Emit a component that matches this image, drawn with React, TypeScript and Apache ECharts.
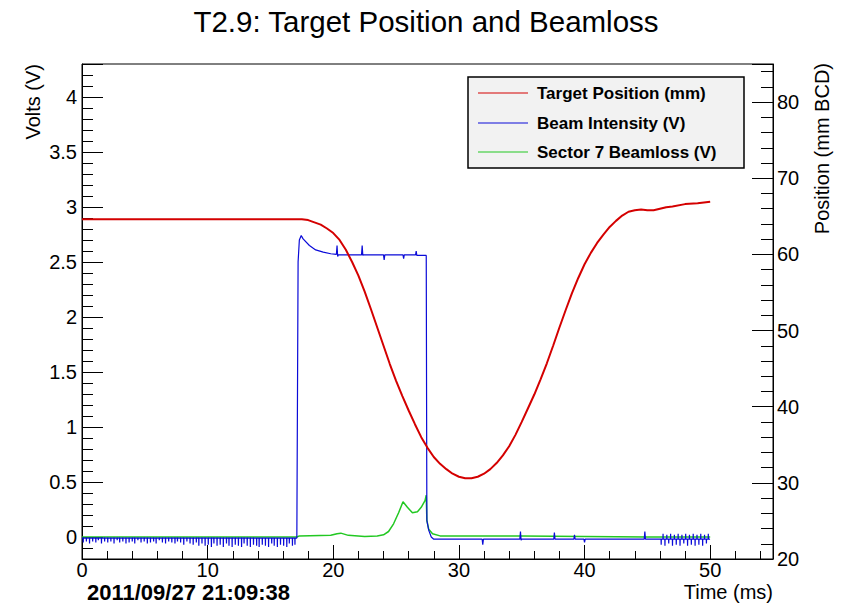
import React, { useEffect, useRef } from "react";
import * as echarts from "echarts";

const chartTitle = "T2.9: Target Position and Beamloss";
const dateStamp = "2011/09/27 21:09:38";
const xAxisTitle = "Time (ms)";
const leftAxisTitle = "Volts (V)";
const rightAxisTitle = "Position (mm BCD)";
const legendNames = ["Target Position (mm)", "Beam Intensity (V)", "Sector 7 Beamloss (V)"];

// Target position (mm, right axis): [time ms, value]
const targetPosition: [number, number][] = [
  [0, 64.6], [5, 64.6], [10, 64.6], [15, 64.6], [17.5, 64.6], [18.0, 64.5], [18.5, 64.2],
  [19.0, 63.9], [19.5, 63.4], [20.0, 62.8], [20.5, 61.9], [21.0, 60.6], [21.5, 59.0],
  [22.0, 57.2], [22.5, 55.1], [23.0, 52.8], [23.5, 50.4], [24.0, 48.0], [24.5, 45.6],
  [25.0, 43.4], [25.5, 41.4], [26.0, 39.5], [26.5, 37.7], [27.0, 36.0], [27.5, 34.6],
  [28.0, 33.4], [28.5, 32.5], [29.0, 31.8], [29.5, 31.2], [30.0, 30.8], [30.5, 30.6],
  [31.0, 30.6], [31.5, 30.8], [32.0, 31.2], [32.5, 31.8], [33.0, 32.6], [33.5, 33.6],
  [34.0, 34.8], [34.5, 36.3], [35.0, 38.0], [35.5, 39.8], [36.0, 41.6], [36.5, 43.6],
  [37.0, 45.7], [37.5, 48.0], [38.0, 50.4], [38.5, 52.7], [39.0, 54.9], [39.5, 56.9],
  [40.0, 58.7], [40.5, 60.2], [41.0, 61.5], [41.5, 62.6], [42.0, 63.6], [42.5, 64.4],
  [43.0, 65.1], [43.5, 65.6], [44.0, 65.8], [44.5, 65.9], [45.0, 65.8], [45.5, 65.8],
  [46.0, 66.0], [46.5, 66.2], [47.0, 66.3], [48.0, 66.6], [49.0, 66.7], [50.0, 66.9],
];

// Beam intensity (V, left axis): noise spikes before the beam, as [time, spike value]
const beamBaseEarly = -0.01;
const beamSpikesEarly: [number, number][] = [
  [0.1, -0.05], [0.35, -0.04], [0.6, -0.06], [0.85, -0.04], [1.1, -0.05], [1.3, -0.03], [1.55, -0.06],
  [1.8, -0.04], [2.05, -0.05], [2.3, -0.04], [2.55, -0.06], [2.8, -0.03], [3.0, -0.05], [3.25, -0.04],
  [3.5, -0.06], [3.75, -0.05], [4.0, -0.04], [4.2, -0.06], [4.45, -0.03], [4.7, -0.05], [4.95, -0.04],
  [5.2, -0.06], [5.45, -0.05], [5.7, -0.04], [5.9, -0.06], [6.15, -0.03], [6.4, -0.05], [6.65, -0.06],
  [6.9, -0.04], [7.15, -0.05], [7.4, -0.06], [7.6, -0.04], [7.85, -0.05], [8.1, -0.07], [8.35, -0.04],
  [8.6, -0.06], [8.85, -0.07], [9.1, -0.05], [9.3, -0.08], [9.55, -0.06], [9.8, -0.08], [10.05, -0.07],
  [10.3, -0.09], [10.5, -0.06], [10.75, -0.08], [11.0, -0.07], [11.25, -0.09], [11.5, -0.06],
  [11.7, -0.08], [11.95, -0.09], [12.2, -0.07], [12.45, -0.08], [12.7, -0.09], [12.9, -0.06],
  [13.15, -0.08], [13.4, -0.09], [13.65, -0.07], [13.9, -0.08], [14.1, -0.09], [14.35, -0.07],
  [14.6, -0.08], [14.85, -0.09], [15.1, -0.06], [15.3, -0.08], [15.55, -0.09], [15.8, -0.07],
  [16.05, -0.08], [16.3, -0.09], [16.5, -0.06], [16.75, -0.08], [16.95, -0.07],
];
// Beam intensity main trace
const beamMain: [number, number][] = [
  [17.1, -0.01], [17.2, 2.5], [17.3, 2.7], [17.45, 2.74], [17.6, 2.71], [18.1, 2.65], [18.6, 2.61],
  [19.2, 2.59], [19.8, 2.575], [20.25, 2.57], [20.3, 2.65], [20.35, 2.55], [20.4, 2.565],
  [22.25, 2.565], [22.3, 2.65], [22.35, 2.56], [22.4, 2.565], [24.0, 2.565], [24.05, 2.52],
  [24.1, 2.565], [25.55, 2.565], [25.6, 2.53], [25.65, 2.565], [26.55, 2.565], [26.6, 2.6],
  [26.65, 2.56], [27.4, 2.56], [27.45, 0.15], [27.6, 0.06], [27.8, 0.0], [28.0, -0.02],
  [31.85, -0.02], [31.9, -0.07], [31.95, -0.02], [34.85, -0.02], [34.9, 0.05], [34.95, -0.03],
  [35, -0.02], [37.55, -0.02], [37.6, 0.04], [37.65, -0.02], [39.15, -0.02], [39.2, 0.02],
  [39.25, -0.02], [39.95, -0.02], [40, -0.05], [40.05, -0.02], [44.75, -0.02], [44.8, 0.05],
  [44.85, -0.02], [46.0, -0.02],
];
// Beam intensity noise at the end, as [time, spike value]
const beamBaseLate = -0.02;
const beamSpikesLate: [number, number][] = [
  [46.1, -0.07], [46.25, 0.03], [46.4, -0.08], [46.55, 0.02], [46.7, -0.06], [46.85, 0.03],
  [47.0, -0.08], [47.15, 0.02], [47.3, -0.07], [47.45, 0.03], [47.6, -0.08], [47.75, 0.02],
  [47.9, -0.06], [48.05, 0.03], [48.2, -0.08], [48.35, 0.02], [48.5, -0.07], [48.65, 0.03],
  [48.8, -0.08], [48.95, 0.02], [49.1, -0.07], [49.25, 0.03], [49.4, -0.08], [49.55, 0.02],
  [49.7, -0.06], [49.85, 0.03], [50.0, -0.02],
];

// Sector 7 beamloss (V, left axis)
const sectorBeamloss: [number, number][] = [
  [0, 0.0], [17.1, 0.0], [17.3, 0.01], [19.8, 0.015], [20.3, 0.03], [20.6, 0.035], [21.2, 0.015],
  [22.5, 0.005], [23.5, 0.01], [24.0, 0.02], [24.4, 0.05], [24.8, 0.12], [25.2, 0.22],
  [25.55, 0.32], [25.9, 0.27], [26.3, 0.22], [26.7, 0.23], [27.0, 0.27], [27.3, 0.33],
  [27.4, 0.38], [27.45, 0.15], [27.6, 0.07], [27.9, 0.03], [28.5, 0.01], [35, 0.01],
  [40, 0.005], [45, 0.0], [50, 0.0],
];

const colors = { red: "#d40000", blue: "#0a0ad8", green: "#22c822" };
const FONT = "Liberation Sans, Arial, Helvetica, sans-serif";

function expandSpikes(spikes: [number, number][], base: number): [number, number][] {
  const out: [number, number][] = [];
  spikes.forEach(([t, v]) => {
    out.push([t - 0.01, base], [t, v], [t + 0.01, base]);
  });
  return out;
}

export default function App() {
  const ref = useRef<HTMLDivElement>(null);
  useEffect(() => {
    if (!ref.current) return;
    const chart = echarts.init(ref.current, undefined, { renderer: "svg" });
    const tickStyle = { color: "#000", width: 1 };
    const beamData = [
      [0, beamBaseEarly] as [number, number],
      ...expandSpikes(beamSpikesEarly, beamBaseEarly),
      ...beamMain,
      ...expandSpikes(beamSpikesLate, beamBaseLate),
    ];
    const legendRows = [
      { name: legendNames[0], color: colors.red, y: 93 },
      { name: legendNames[1], color: colors.blue, y: 123 },
      { name: legendNames[2], color: colors.green, y: 152 },
    ];
    chart.setOption({
      animation: false,
      backgroundColor: "#fff",
      grid: { left: 82, top: 64, width: 691, height: 495, show: true, borderColor: "#000", borderWidth: 1, backgroundColor: "transparent" },
      xAxis: {
        type: "value", min: 0, max: 55, interval: 10,
        axisLine: { show: true, onZero: false, lineStyle: tickStyle },
        axisTick: { show: true, inside: true, length: 14, lineStyle: tickStyle },
        minorTick: { show: true, splitNumber: 5, length: 8, lineStyle: tickStyle },
        axisLabel: { color: "#000", fontSize: 20, lineHeight: 18, fontFamily: FONT, margin: 2, showMaxLabel: false },
        splitLine: { show: false },
      },
      yAxis: [
        {
          type: "value", min: -0.2, max: 4.3, splitNumber: 9, minInterval: 0.5, maxInterval: 0.5, position: "left",
          axisLine: { show: true, onZero: false, lineStyle: tickStyle },
          axisTick: { show: true, inside: true, length: 21, lineStyle: tickStyle },
          minorTick: { show: true, splitNumber: 5, length: 11, lineStyle: tickStyle },
          axisLabel: { color: "#000", fontSize: 20, fontFamily: FONT, margin: 5, showMinLabel: false, showMaxLabel: false },
          splitLine: { show: false },
        },
        {
          type: "value", min: 20, max: 85, interval: 10, position: "right",
          axisLine: { show: true, onZero: false, lineStyle: tickStyle },
          axisTick: { show: true, inside: true, length: 21, lineStyle: tickStyle },
          minorTick: { show: true, splitNumber: 5, length: 12, lineStyle: tickStyle },
          axisLabel: { color: "#000", fontSize: 20, fontFamily: FONT, margin: 4, showMaxLabel: false },
          splitLine: { show: false },
        },
      ],
      series: [
        { name: legendNames[2], type: "line", yAxisIndex: 0, data: sectorBeamloss, symbol: "none", lineStyle: { color: colors.green, width: 1.5 } },
        { name: legendNames[1], type: "line", yAxisIndex: 0, data: beamData, symbol: "none", lineStyle: { color: colors.blue, width: 1.2 } },
        { name: legendNames[0], type: "line", yAxisIndex: 1, data: targetPosition, symbol: "none", lineStyle: { color: colors.red, width: 2 } },
      ],
      graphic: [
        { type: "text", x: 426, y: 21, style: { text: chartTitle, font: `29.5px ${FONT}`, fill: "#000", align: "center", verticalAlign: "middle" } },
        { type: "text", x: 87, y: 592, style: { text: dateStamp, font: `bold 22px ${FONT}`, lineHeight: 20, fill: "#000", align: "left", verticalAlign: "middle" } },
        { type: "text", x: 773, y: 592, style: { text: xAxisTitle, font: `20px ${FONT}`, fill: "#000", align: "right", verticalAlign: "middle" } },
        { type: "text", x: 33, y: 64, rotation: Math.PI / 2, style: { text: leftAxisTitle, font: `20px ${FONT}`, fill: "#000", align: "right", verticalAlign: "middle" } },
        { type: "text", x: 822, y: 63, rotation: Math.PI / 2, style: { text: rightAxisTitle, font: `20px ${FONT}`, fill: "#000", align: "right", verticalAlign: "middle" } },
        { type: "rect", shape: { x: 468, y: 77, width: 276, height: 91 }, style: { fill: "#f2f2f2", stroke: "#000", lineWidth: 1.5 }, z: 10 },
        ...legendRows.flatMap((r) => [
          { type: "line", shape: { x1: 478, y1: r.y, x2: 528, y2: r.y }, style: { stroke: r.color, lineWidth: 1 }, z: 11 },
          { type: "text", x: 537, y: r.y, style: { text: r.name, font: `bold 17px ${FONT}`, fill: "#000", align: "left", verticalAlign: "middle" }, z: 11 },
        ]),
      ],
    });
    return () => chart.dispose();
  }, []);
  return <div ref={ref} style={{ position: "absolute", left: 0, top: 0, width: 843, height: 604, background: "#fff" }} />;
}
